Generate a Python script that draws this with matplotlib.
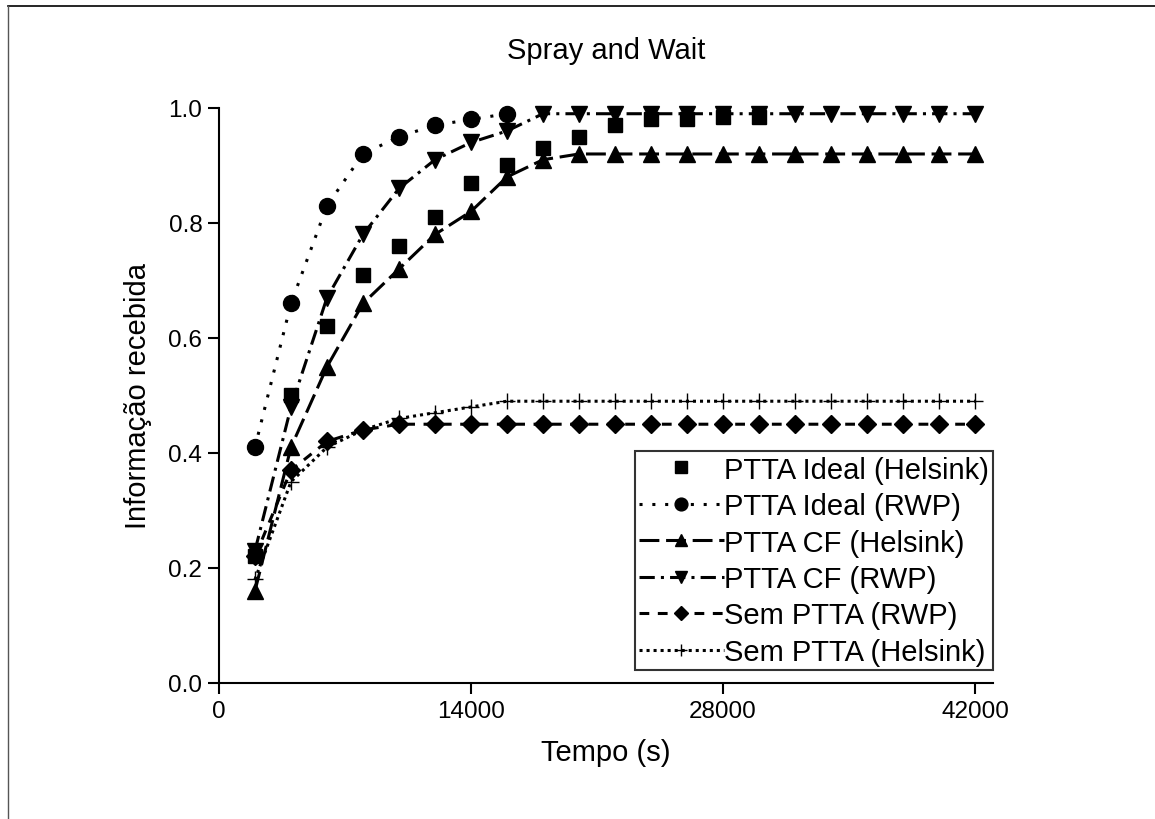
import matplotlib
matplotlib.use("Agg")
import matplotlib.pyplot as plt
from matplotlib.lines import Line2D

plt.rcParams['font.family'] = ['Liberation Sans', 'DejaVu Sans']

# tempo (s) de cada ponto
tempo = [2000, 4000, 6000, 8000, 10000, 12000, 14000, 16000, 18000, 20000, 22000,
         24000, 26000, 28000, 30000, 32000, 34000, 36000, 38000, 40000, 42000]

ideal_helsink = [0.22, 0.50, 0.62, 0.71, 0.76, 0.81, 0.87, 0.90, 0.93, 0.95, 0.97,
                 0.98, 0.98, 0.985, 0.985]
ideal_rwp = [0.41, 0.66, 0.83, 0.92, 0.95, 0.97, 0.98, 0.99]
cf_helsink = [0.16, 0.41, 0.55, 0.66, 0.72, 0.78, 0.82, 0.88, 0.91, 0.92, 0.92,
              0.92, 0.92, 0.92, 0.92, 0.92, 0.92, 0.92, 0.92, 0.92, 0.92]
cf_rwp = [0.23, 0.48, 0.67, 0.78, 0.86, 0.91, 0.94, 0.96, 0.99, 0.99, 0.99,
          0.99, 0.99, 0.99, 0.99, 0.99, 0.99, 0.99, 0.99, 0.99, 0.99]
sem_rwp = [0.22, 0.37, 0.42, 0.44, 0.45, 0.45, 0.45, 0.45, 0.45, 0.45, 0.45,
           0.45, 0.45, 0.45, 0.45, 0.45, 0.45, 0.45, 0.45, 0.45, 0.45]
sem_helsink = [0.18, 0.35, 0.41, 0.44, 0.46, 0.47, 0.48, 0.49, 0.49, 0.49, 0.49,
               0.49, 0.49, 0.49, 0.49, 0.49, 0.49, 0.49, 0.49, 0.49, 0.49]

fig = plt.figure(figsize=(11.55, 8.2), dpi=100)
ax = fig.add_axes([0.1896, 0.1659, 0.6701, 0.7012])

lw = 2.2
ax.plot(tempo[:len(ideal_helsink)], ideal_helsink, linestyle='none', marker='s',
        ms=10.5, color='black', label='PTTA Ideal (Helsink)', clip_on=False)
ax.plot(tempo[:len(ideal_rwp)], ideal_rwp, linestyle=(0, (1, 3.2)), lw=lw, marker='o',
        ms=11.5, color='black', label='PTTA Ideal (RWP)', clip_on=False)
ax.plot(tempo, cf_helsink, linestyle=(0, (6.5, 2.2)), lw=lw, marker='^',
        ms=11.5, color='black', label='PTTA CF (Helsink)', clip_on=False)
ax.plot(tempo, cf_rwp, linestyle=(0, (5, 2, 1, 2)), lw=lw, marker='v',
        ms=11.5, color='black', label='PTTA CF (RWP)', clip_on=False)
ax.plot(tempo, sem_rwp, linestyle=(0, (3.2, 2.8)), lw=lw, marker='D',
        ms=9.5, color='black', label='Sem PTTA (RWP)', clip_on=False)
ax.plot(tempo, sem_helsink, linestyle=(0, (1, 1.3)), lw=lw, marker='+',
        ms=11, mew=1, color='black', label='Sem PTTA (Helsink)', clip_on=False)

ax.set_xlim(0, 43000)
ax.set_ylim(0, 1.0)
ax.set_xticks([0, 14000, 28000, 42000])
ax.set_yticks([0.0, 0.2, 0.4, 0.6, 0.8, 1.0])
ax.set_yticklabels(['0.0', '0.2', '0.4', '0.6', '0.8', '1.0'])
ax.tick_params(direction='out', length=8, width=1.5, labelsize=17.5, pad=4)
for s in ['top', 'right']:
    ax.spines[s].set_visible(False)
for s in ['left', 'bottom']:
    ax.spines[s].set_linewidth(1.5)

ax.set_title('Spray and Wait', fontsize=21, pad=36)
ax.set_xlabel('Tempo (s)', fontsize=21, labelpad=12)
ax.set_ylabel('Informação recebida', fontsize=21, labelpad=12)

leg = ax.legend(loc='lower right', bbox_to_anchor=(1.0, 0.022), fontsize=21,
                handlelength=2.9, handletextpad=0.0, borderpad=0.15,
                labelspacing=0.29, borderaxespad=0, fancybox=False,
                frameon=True, markerscale=0.8)
leg.get_frame().set_edgecolor('black')
leg.get_frame().set_linewidth(1.5)

# moldura da figura (topo e esquerda)
fig.add_artist(Line2D([0.007, 1.0], [0.9915, 0.9915], color='black', lw=1.2))
fig.add_artist(Line2D([0.007, 0.007], [0.0, 0.9915], color='#555555', lw=1.0))

plt.savefig('out.png', dpi=100)
plt.close()
